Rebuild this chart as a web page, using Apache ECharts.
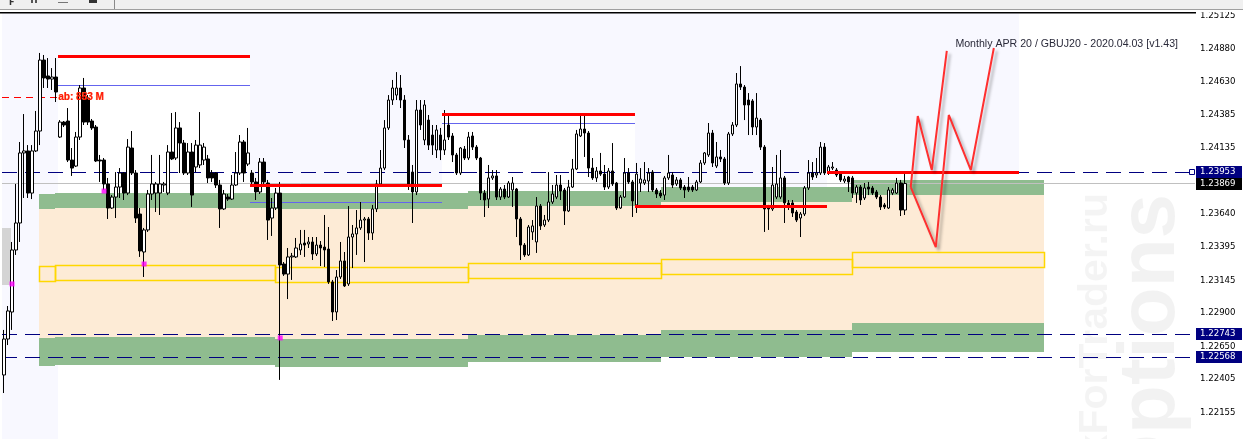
<!DOCTYPE html>
<html><head><meta charset="utf-8">
<script src="https://cdn.jsdelivr.net/npm/echarts@6/dist/echarts.min.js"></script>
<style>html,body{margin:0;padding:0;background:#fff;overflow:hidden}#c{width:1243px;height:439px}</style>
</head><body><div id="c"></div>
<script>
// ---- axis range & ticks ----
const yMin = 1.21958, yMax = 1.25145;
const yLabels = [1.25125,1.24880,1.24630,1.24385,1.24135,1.23640,1.23395,1.23145,1.22900,1.22650,1.22405,1.22155];
const yTicks = yLabels.concat([1.23890]);
const slotCount = 298;
const categories = Array.from({length: slotCount}, (_, i) => String(i));

// ---- candles: [open, close, low, high] ----
const ohlc = [
[1.22437,1.22706,1.22302,1.22774],[1.22706,1.22916,1.22661,1.22953],[1.22908,1.23372,1.22774,1.23432],[1.23372,1.23574,1.23335,1.23866],
[1.23574,1.24098,1.23432,1.24180],[1.24098,1.24113,1.23761,1.24389],[1.24113,1.23798,1.23761,1.24157],[1.23798,1.24113,1.23753,1.24157],
[1.24113,1.24262,1.24105,1.24412],[1.24262,1.24793,1.24157,1.24846],[1.24793,1.24659,1.24584,1.24831],[1.24674,1.24651,1.24584,1.24808],
[1.24651,1.24666,1.24569,1.24733],[1.24666,1.24554,1.24479,1.24808],[1.24217,1.24329,1.24210,1.24344],[1.24329,1.24307,1.24292,1.24337],
[1.24337,1.24045,1.24030,1.24434],[1.24045,1.23985,1.23926,1.24135],[1.24000,1.24217,1.23993,1.24255],[1.24217,1.24584,1.24195,1.24606],
[1.24584,1.24329,1.24307,1.24659],[1.24509,1.24329,1.24307,1.24531],[1.24337,1.24285,1.24270,1.24352],[1.24292,1.24038,1.24030,1.24307],
[1.24045,1.24038,1.23881,1.24083],[1.24045,1.23866,1.23821,1.24060],[1.23866,1.23686,1.23604,1.23911],[1.23686,1.23768,1.23679,1.23783],
[1.23768,1.23843,1.23611,1.23955],[1.23843,1.23948,1.23761,1.23985],[1.23948,1.23798,1.23746,1.23955],[1.23798,1.24142,1.23783,1.24202],
[1.24135,1.23948,1.23933,1.24262],[1.23948,1.23611,1.23574,1.23970],[1.23641,1.23365,1.23320,1.23686],[1.23357,1.23522,1.23170,1.23537],
[1.23522,1.23791,1.23507,1.23821],[1.23791,1.23866,1.23746,1.24083],[1.23798,1.23866,1.23656,1.23881],[1.23798,1.23866,1.23634,1.24083],
[1.23858,1.23866,1.23806,1.23881],[1.23798,1.24105,1.23783,1.24157],[1.24105,1.24053,1.24045,1.24397],[1.24060,1.24285,1.24045,1.24404],
[1.24285,1.24172,1.23948,1.24329],[1.24172,1.23948,1.23933,1.24195],[1.23948,1.24105,1.23933,1.24172],[1.24105,1.23783,1.23694,1.24172],
[1.23993,1.24157,1.23955,1.24195],[1.24008,1.24157,1.23985,1.24404],[1.24045,1.24142,1.24008,1.24172],[1.24053,1.23911,1.23873,1.24083],
[1.23948,1.23911,1.23881,1.23970],[1.23948,1.23858,1.23836,1.23955],[1.23858,1.23679,1.23537,1.23896],[1.23679,1.23791,1.23671,1.23821],
[1.23768,1.23753,1.23739,1.23791],[1.23753,1.23858,1.23746,1.23933],[1.23858,1.23948,1.23851,1.24105],[1.23948,1.24180,1.23933,1.24232],
[1.24180,1.23948,1.23881,1.24195],[1.24015,1.24098,1.24000,1.24285],[1.23948,1.23881,1.23858,1.23970],[1.23881,1.23806,1.23746,1.23911],
[1.23806,1.24030,1.23791,1.24060],[1.24030,1.23881,1.23858,1.24060],[1.23873,1.23596,1.23447,1.23896],[1.23611,1.23686,1.23477,1.23761],
[1.23686,1.23798,1.23671,1.23836],[1.23798,1.23260,1.22400,1.23881],[1.23267,1.23192,1.23178,1.23282],[1.23192,1.23320,1.23005,1.23387],
[1.23320,1.23327,1.23148,1.23350],[1.23320,1.23387,1.23312,1.23462],[1.23372,1.23417,1.23335,1.23522],[1.23424,1.23409,1.23320,1.23522],
[1.23417,1.23432,1.23387,1.23469],[1.23432,1.23342,1.23297,1.23469],[1.23342,1.23409,1.23327,1.23469],[1.23409,1.23387,1.23252,1.23439],
[1.23394,1.23372,1.23245,1.23634],[1.23379,1.23133,1.23118,1.23544],[1.23133,1.22908,1.22841,1.23148],[1.22908,1.23170,1.22848,1.23222],
[1.23170,1.23290,1.23155,1.23432],[1.23290,1.23103,1.23095,1.23357],[1.23118,1.23469,1.23103,1.23701],[1.23469,1.23492,1.23237,1.23559],
[1.23492,1.23537,1.23335,1.23671],[1.23537,1.23596,1.23522,1.23731],[1.23596,1.23604,1.23282,1.23619],[1.23604,1.23499,1.23447,1.23619],
[1.23499,1.23679,1.23447,1.23709],[1.23679,1.23866,1.23656,1.23896],[1.23866,1.23985,1.23851,1.24120],[1.23985,1.24285,1.23970,1.24344],
[1.24285,1.24494,1.24270,1.24531],[1.24494,1.24584,1.24457,1.24644],[1.24531,1.24584,1.24494,1.24703],[1.24584,1.24494,1.24434,1.24681],
[1.24494,1.24195,1.24135,1.24531],[1.24195,1.23858,1.23821,1.24232],[1.23955,1.23806,1.23574,1.24008],[1.23806,1.24419,1.23783,1.24494],
[1.24419,1.24307,1.24270,1.24494],[1.24195,1.24457,1.24157,1.24494],[1.24344,1.24157,1.24120,1.24382],[1.24232,1.24157,1.24083,1.24307],
[1.24120,1.24270,1.24060,1.24307],[1.24232,1.24120,1.24045,1.24285],[1.24120,1.24195,1.24083,1.24419],[1.24307,1.24217,1.24195,1.24382],
[1.24225,1.24083,1.24030,1.24247],[1.24083,1.23948,1.23933,1.24098],[1.23948,1.24135,1.23933,1.24142],[1.24127,1.24060,1.24045,1.24150],
[1.24060,1.24217,1.24045,1.24255],[1.24225,1.24142,1.24120,1.24255],[1.24142,1.24060,1.24045,1.24157],[1.24060,1.23798,1.23746,1.24068],
[1.23798,1.23746,1.23619,1.23821],[1.23753,1.23911,1.23686,1.24008],[1.23911,1.23926,1.23896,1.23970],[1.23926,1.23768,1.23746,1.23970],
[1.23768,1.23828,1.23746,1.23843],[1.23828,1.23768,1.23753,1.23858],[1.23768,1.23873,1.23761,1.23888],[1.23821,1.23873,1.23694,1.23918],
[1.23828,1.23604,1.23469,1.23836],[1.23604,1.23409,1.23297,1.23619],[1.23409,1.23335,1.23320,1.23424],[1.23335,1.23544,1.23327,1.23559],
[1.23507,1.23552,1.23447,1.23596],[1.23432,1.23701,1.23350,1.23768],[1.23701,1.23552,1.23522,1.23716],[1.23559,1.23596,1.23544,1.23634],
[1.23596,1.23731,1.23581,1.23955],[1.23731,1.23791,1.23716,1.23858],[1.23768,1.23858,1.23753,1.23933],[1.23858,1.23813,1.23746,1.23933],
[1.23821,1.23664,1.23559,1.23836],[1.23664,1.23843,1.23656,1.23896],[1.23843,1.23978,1.23836,1.24053],[1.23978,1.24240,1.23970,1.24270],
[1.24225,1.24277,1.24217,1.24382],[1.24277,1.24247,1.24068,1.24382],[1.24247,1.23985,1.23918,1.24262],[1.23985,1.23911,1.23896,1.24060],
[1.23911,1.23963,1.23881,1.23993],[1.23963,1.23940,1.23926,1.24098],[1.23940,1.23843,1.23821,1.24008],[1.23843,1.23963,1.23828,1.23985],
[1.23963,1.23866,1.23851,1.24172],[1.23873,1.23686,1.23671,1.23881],[1.23686,1.23768,1.23679,1.23783],[1.23768,1.23948,1.23761,1.24060],
[1.23948,1.23881,1.23866,1.23985],[1.23881,1.23739,1.23619,1.23896],[1.23709,1.23940,1.23649,1.24023],[1.23873,1.23903,1.23806,1.23985],
[1.23873,1.23896,1.23858,1.24030],[1.23888,1.23948,1.23806,1.23985],[1.23955,1.23821,1.23806,1.23970],[1.23821,1.23791,1.23761,1.23836],
[1.23798,1.23776,1.23761,1.23821],[1.23783,1.23911,1.23746,1.23926],[1.23911,1.23948,1.23896,1.24083],[1.23933,1.23858,1.23836,1.23955],
[1.23866,1.23896,1.23851,1.23918],[1.23896,1.23836,1.23821,1.23911],[1.23843,1.23821,1.23761,1.23858],[1.23843,1.23821,1.23806,1.23918],
[1.23843,1.23821,1.23806,1.23858],[1.23821,1.23881,1.23813,1.23896],[1.23881,1.24023,1.23873,1.24045],[1.24023,1.24098,1.24008,1.24105],
[1.24083,1.24247,1.24068,1.24322],[1.24247,1.24023,1.23993,1.24270],[1.24000,1.24068,1.23985,1.24180],[1.24068,1.24053,1.24030,1.24120],
[1.24053,1.23873,1.23858,1.24068],[1.23873,1.24240,1.23858,1.24255],[1.24240,1.24307,1.24225,1.24329],[1.24307,1.24614,1.24292,1.24696],
[1.24614,1.24591,1.24569,1.24748],[1.24591,1.24457,1.24344,1.24606],[1.24494,1.24457,1.24232,1.24546],[1.24487,1.24292,1.24232,1.24501],
[1.24292,1.24359,1.24232,1.24546],[1.24344,1.24142,1.24120,1.24359],[1.24142,1.23679,1.23507,1.24157],[1.23694,1.23679,1.23522,1.23709],
[1.23679,1.23858,1.23664,1.23993],[1.23768,1.23866,1.23753,1.24083],[1.23768,1.23911,1.23753,1.24120],[1.23911,1.23724,1.23574,1.23926],
[1.23724,1.23694,1.23671,1.23746],[1.23724,1.23649,1.23619,1.23746],[1.23656,1.23596,1.23581,1.23671],[1.23611,1.23641,1.23469,1.23656],
[1.23641,1.23836,1.23626,1.23851],[1.23836,1.23948,1.23821,1.24045],[1.23948,1.23918,1.23896,1.24030],[1.23933,1.23948,1.23911,1.24060],
[1.23948,1.24142,1.23933,1.24180],[1.24142,1.23948,1.23933,1.24172],[1.23948,1.23993,1.23933,1.24008],[1.23985,1.23993,1.23970,1.24030],
[1.23970,1.23933,1.23918,1.23985],[1.23948,1.23896,1.23881,1.23955],[1.23888,1.23903,1.23873,1.23926],[1.23918,1.23881,1.23806,1.23926],
[1.23911,1.23798,1.23761,1.23926],[1.23798,1.23843,1.23724,1.23858],[1.23843,1.23746,1.23709,1.23858],[1.23761,1.23836,1.23746,1.23873],
[1.23843,1.23828,1.23783,1.23881],[1.23836,1.23798,1.23783,1.23851],[1.23806,1.23768,1.23753,1.23821],[1.23768,1.23694,1.23671,1.23783],
[1.23709,1.23694,1.23679,1.23724],[1.23686,1.23821,1.23679,1.23843],[1.23798,1.23821,1.23783,1.23836],[1.23798,1.23873,1.23791,1.23911],
[1.23873,1.23671,1.23626,1.23896],[1.23671,1.23869,1.23634,1.23948]
];

// ---- weekly boxes (bar-index boundaries) ----
const boxEdges = [13.5, 61.5, 109.5, 157.5, 205.5, 253.5];
const boxHigh  = [1.24816, 1.23851, 1.24389, 1.23701, 1.23955];
const boxLine2 = [1.24606, 1.23731, 1.24322, 1.23691];

// ---- option zones ----
const zoneEdges   = [8.75, 12.75, 67.75, 116, 164, 211.75, 259.75];
const greenTopHi  = [1.23791, 1.23798, 1.23798, 1.23813, 1.23843, 1.23896];
const greenTopLo  = [1.23679, 1.23686, 1.23679, 1.23701, 1.23731, 1.23783];
const greenBotHi  = [1.22714, 1.22721, 1.22706, 1.22736, 1.22774, 1.22826];
const greenBotLo  = [1.22504, 1.22512, 1.22497, 1.22534, 1.22572, 1.22609];
const midHi       = [1.23252, 1.23260, 1.23245, 1.23275, 1.23305, 1.23357];
const midLo       = [1.23140, 1.23148, 1.23133, 1.23163, 1.23192, 1.23245];

// ---- levels ----
const levelNavy  = [1.23953, 1.22743, 1.22568];
const levelBid   = 1.23869;
const levelAb    = 1.24514;
const greyBlock  = [-0.5, 1.75, 1.23537, 1.23110];
const dots       = [[2, 1.23118], [25, 1.23813], [35, 1.23267], [69, 1.22714]];
const projA = [[226.5, 1.23843], [228.25, 1.24374], [231.75, 1.23970], [235.5, 1.24861]];
const projB = [[226.5, 1.23843], [232.75, 1.23394], [236, 1.24382], [241.5, 1.23970], [247.25, 1.24883]];
const lastIdx = slotCount - 0.5;

const chart = echarts.init(document.getElementById('c'), null, {renderer: 'canvas'});

function rectSeries(items, style, z, clip) {
  return {
    type: 'custom', xAxisIndex: 1, yAxisIndex: 0, z: z, silent: true, clip: clip !== false,
    encode: {x: [0, 1], y: [2, 3]},
    renderItem: function (p, api) {
      const a = api.coord([api.value(0), api.value(2)]);
      const b = api.coord([api.value(1), api.value(3)]);
      const x0 = Math.round(Math.min(a[0], b[0])), x1 = Math.round(Math.max(a[0], b[0]));
      const y0 = Math.round(Math.min(a[1], b[1])), y1 = Math.round(Math.max(a[1], b[1]));
      const sh = style.stroke ? {x: x0 + 0.5, y: y0 + 0.5, width: x1 - x0, height: y1 - y0}
                              : {x: x0, y: y0, width: x1 - x0, height: y1 - y0};
      return {type: 'rect', shape: sh, style: Object.assign({}, style)};
    },
    data: items
  };
}
function hSeries(items, color, width, dash, z) {
  return {
    type: 'custom', xAxisIndex: 1, yAxisIndex: 0, z: z, silent: true, clip: true,
    encode: {x: [0, 1], y: 2},
    renderItem: function (p, api) {
      const a = api.coord([api.value(0), api.value(2)]);
      const b = api.coord([api.value(1), api.value(2)]);
      let y = a[1];
      y = width % 2 === 1 ? Math.round(y - 0.5) + 0.5 : Math.round(y);
      return {type: 'line', shape: {x1: Math.round(a[0]), y1: y, x2: Math.round(b[0]), y2: y},
              style: {stroke: color, lineWidth: width, lineDash: dash || null}};
    },
    data: items
  };
}

const lavender = [[-0.5, 253.5, yMin, yMax]];
const whiteBoxes = boxHigh.map((h, j) => [boxEdges[j], boxEdges[j + 1], yMin, h]);
const beige = zoneEdges.slice(0, -1).map((e, j) => [e, zoneEdges[j + 1], greenBotHi[j], greenTopLo[j]]);
const greenTop = zoneEdges.slice(0, -1).map((e, j) => [e, zoneEdges[j + 1], greenTopLo[j], greenTopHi[j]]);
const greenBot = zoneEdges.slice(0, -1).map((e, j) => [e, zoneEdges[j + 1], greenBotLo[j], greenBotHi[j]]);
const midBox = zoneEdges.slice(0, -1).map((e, j) => [e, zoneEdges[j + 1], midLo[j], midHi[j]]);
const redSegs = boxHigh.map((h, j) => [boxEdges[j], boxEdges[j + 1], h]);
const blueSegs = boxLine2.map((h, j) => [boxEdges[j], boxEdges[j + 1], h]);

const tagData = [[levelNavy[0], 0], [levelBid, 1], [levelNavy[1], 0], [levelNavy[2], 0]];

function projSeries(pts) {
  return {
    type: 'line', xAxisIndex: 1, yAxisIndex: 0, data: pts, symbol: 'none', z: 9, silent: true,
    lineStyle: {color: '#ff3030', width: 2, shadowColor: 'rgba(0,0,0,0.3)', shadowBlur: 3, shadowOffsetX: 3, shadowOffsetY: 3}
  };
}

const option = {
  animation: false,
  backgroundColor: '#ffffff',
  grid: {left: 2, top: 13, width: 1193, height: 426, containLabel: false},
  xAxis: [
    {type: 'category', data: categories, show: false, boundaryGap: true},
    {type: 'value', min: -0.5, max: lastIdx, show: false}
  ],
  yAxis: {
    type: 'value', position: 'right', min: yMin, max: yMax, scale: true,
    axisLine: {show: true, lineStyle: {color: '#000', width: 1}},
    axisTick: {show: true, inside: false, length: 4, lineStyle: {color: '#000'}, customValues: yTicks},
    axisLabel: {customValues: yLabels, formatter: v => v.toFixed(5), color: '#000',
                fontFamily: 'DejaVu Sans', fontSize: 8.6, margin: 5},
    splitLine: {show: false}
  },
  graphic: [
    {type: 'text', z: 0, silent: true, x: 1152, y: 194, rotation: Math.PI / 2,
     style: {text: 'Options', font: 'bold 80px "Liberation Sans"', fill: 'rgba(0,0,0,0.05)', align: 'right', verticalAlign: 'middle'}},
    {type: 'text', z: 0, silent: true, x: 1096, y: 193, rotation: Math.PI / 2,
     style: {text: 'ForexForTrader.ru', font: 'bold 41px "Liberation Sans"', fill: 'rgba(0,0,0,0.045)', align: 'right', verticalAlign: 'middle'}},
    {type: 'text', z: 50, silent: true, x: 1178, y: 44,
     style: {text: 'Monthly APR 20 / GBUJ20 - 2020.04.03 [v1.43]', font: '10.6px "Liberation Sans"', fill: '#2a2a3a', align: 'right', verticalAlign: 'middle'}},
    {type: 'rect', z: 60, silent: true, shape: {x: 0, y: 0, width: 1243, height: 9}, style: {fill: '#f0f0f0'}},
    {type: 'rect', z: 60, silent: true, shape: {x: 0, y: 9, width: 1243, height: 1}, style: {fill: '#a0a0a0'}},
    {type: 'rect', z: 60, silent: true, shape: {x: 0, y: 10, width: 1243, height: 2}, style: {fill: '#ffffff'}},
    {type: 'rect', z: 60, silent: true, shape: {x: 0, y: 12, width: 1196, height: 1.5}, style: {fill: '#000000'}},
    {type: 'rect', z: 61, silent: true, shape: {x: 114, y: 0, width: 1, height: 9}, style: {fill: '#8a8a8a'}},
    {type: 'text', z: 61, silent: true, x: 9, y: 3, style: {text: 'F', font: 'bold 8px "DejaVu Sans"', fill: '#333', verticalAlign: 'middle'}},
    {type: 'rect', z: 61, silent: true, shape: {x: 31, y: 0, width: 2, height: 3}, style: {fill: '#555'}},
    {type: 'rect', z: 61, silent: true, shape: {x: 35, y: 0, width: 2, height: 3}, style: {fill: '#555'}},
    {type: 'rect', z: 61, silent: true, shape: {x: 58, y: 2, width: 10, height: 1}, style: {fill: '#777'}},
    {type: 'rect', z: 61, silent: true, shape: {x: 89, y: 0, width: 8, height: 3}, style: {fill: '#333'}}
  ],
  series: [
    rectSeries(lavender, {fill: '#f8f8ff'}, 1),
    rectSeries(whiteBoxes, {fill: '#ffffff'}, 1),
    rectSeries([greyBlock], {fill: '#d4d4d4'}, 1),
    rectSeries(beige, {fill: '#fdebd6'}, 2),
    rectSeries(greenTop, {fill: '#8fbc8f'}, 2),
    rectSeries(greenBot, {fill: '#8fbc8f'}, 2),
    rectSeries(midBox, {fill: 'rgba(0,0,0,0)', stroke: '#ffd700', lineWidth: 1.5}, 3),
    hSeries([[-0.5, lastIdx, levelBid]], '#c0c0c0', 1, null, 3),
    hSeries(levelNavy.map(v => [-0.5, lastIdx, v]), '#000080', 1, [15, 8], 3),
    hSeries([[-0.5, 13.5, levelAb]], '#ff0000', 1, [7, 5], 3),
    hSeries(blueSegs, '#6464ee', 1, null, 4),
    {
      type: 'candlestick', xAxisIndex: 0, yAxisIndex: 0, data: ohlc, barWidth: 3, z: 5, silent: true,
      itemStyle: {color: '#ffffff', color0: '#000000', borderColor: '#000000', borderColor0: '#000000', borderWidth: 1}
    },
    hSeries(redSegs, '#ff0000', 3, null, 6),
    {
      type: 'scatter', xAxisIndex: 0, yAxisIndex: 0, data: dots, symbol: 'rect', symbolSize: 5, z: 7, silent: true,
      itemStyle: {color: '#ff00ff'}
    },
    projSeries(projA),
    projSeries(projB),
    {
      type: 'custom', xAxisIndex: 1, yAxisIndex: 0, z: 8, silent: true, clip: false,
      encode: {x: 0, y: 1}, data: [[boxEdges[0], levelAb]],
      renderItem: function (p, api) {
        const a = api.coord([api.value(0), api.value(1)]);
        return {type: 'group', children: [
          {type: 'text', x: a[0], y: a[1], style: {text: 'ab: 853 M', font: 'bold 10px "Liberation Sans"', fill: '#ff8a3c', verticalAlign: 'middle'}},
          {type: 'text', x: a[0] + 0.5, y: a[1], style: {text: 'ab: 883 M', font: 'bold 10px "Liberation Sans"', fill: 'rgba(255,0,0,0.85)', verticalAlign: 'middle'}}
        ]};
      }
    },
    {
      type: 'custom', xAxisIndex: 1, yAxisIndex: 0, z: 20, silent: true, clip: false,
      encode: {y: 0}, data: tagData,
      renderItem: function (p, api) {
        const y = Math.round(api.coord([0, api.value(0)])[1]);
        const bg = api.value(1) === 1 ? '#000000' : '#000080';
        const kids = [
          {type: 'rect', shape: {x: 1196, y: y - 6, width: 46, height: 12}, style: {fill: bg}},
          {type: 'text', x: 1200, y: y, style: {text: api.value(0).toFixed(5), font: '8.6px "DejaVu Sans"', fill: '#ffffff', verticalAlign: 'middle'}}
        ];
        if (p.dataIndex === 0) {
          kids.push({type: 'rect', shape: {x: 1189.5, y: y - 2.5, width: 5, height: 5}, style: {fill: '#fff', stroke: '#000080', lineWidth: 1}});
        }
        return {type: 'group', children: kids};
      }
    }
  ]
};
chart.setOption(option);
</script>
</body></html>
